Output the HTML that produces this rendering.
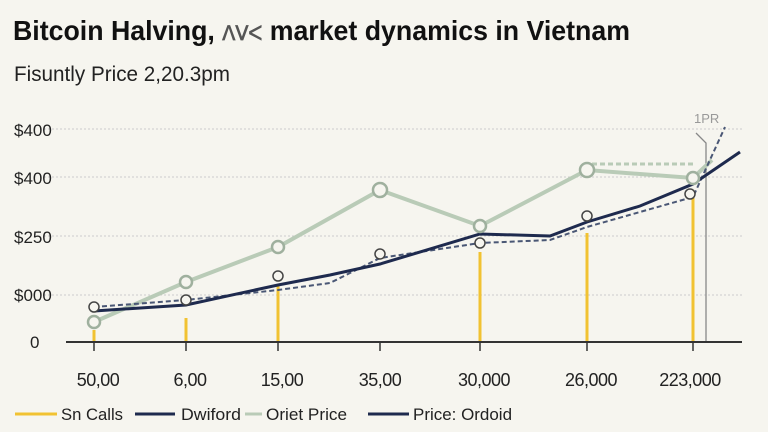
<!DOCTYPE html>
<html><head><meta charset="utf-8"><style>
html,body{margin:0;padding:0;background:#f6f5ef;}
svg{display:block;font-family:"Liberation Sans",sans-serif;}
</style></head><body>
<svg width="768" height="432" viewBox="0 0 768 432">
<rect width="768" height="432" fill="#f6f5ef"/>
<text x="13" y="40" font-size="28" font-weight="bold" fill="#111" textLength="617" lengthAdjust="spacingAndGlyphs">Bitcoin Halving, <tspan fill="#555" font-size="20">ᐱᐯᐸ</tspan> market dynamics in Vietnam</text>
<text x="14" y="81" font-size="21" fill="#222" textLength="216" lengthAdjust="spacingAndGlyphs">Fisuntly Price 2,20.3pm</text>
<g stroke="#ccc" stroke-dasharray="2,2" stroke-width="1">
<line x1="44" y1="129" x2="742" y2="129"/>
<line x1="44" y1="177" x2="742" y2="177"/>
<line x1="44" y1="236" x2="742" y2="236"/>
<line x1="44" y1="295" x2="742" y2="295"/>
</g>
<g font-size="17" fill="#222">
<text x="14" y="136">$400</text>
<text x="14" y="184">$400</text>
<text x="14" y="243">$250</text>
<text x="14" y="301">$000</text>
<text x="30" y="348">0</text>
</g>
<text x="694" y="123" font-size="13" fill="#999">1PR</text>
<polyline points="696,133 706,143 706,342" fill="none" stroke="#888" stroke-width="1.3"/>
<g stroke="#f1c232" stroke-width="3">
<line x1="94" y1="342" x2="94" y2="330"/>
<line x1="186" y1="342" x2="186" y2="318"/>
<line x1="278" y1="342" x2="278" y2="285"/>
<line x1="480" y1="342" x2="480" y2="252"/>
<line x1="587" y1="342" x2="587" y2="233"/>
<line x1="693" y1="342" x2="693" y2="198"/>
</g>
<polyline points="94,322 186,282 278,247 380,190 480,226 587,170 693,178 712,160" fill="none" stroke="#b9cbb7" stroke-width="4"/>
<line x1="592" y1="164" x2="693" y2="164" stroke="#b9cbb7" stroke-width="3" stroke-dasharray="5,3"/>
<polyline points="94,307 186,300 278,290 330,283 380,258 480,243 550,240 587,227 693,197 725,127" fill="none" stroke="#4a5775" stroke-width="2" stroke-dasharray="5,3"/>
<polyline points="94,311 186,305 278,285 330,275 380,264 480,234 550,236 587,222 640,206 693,184 740,152" fill="none" stroke="#1e2a4e" stroke-width="3"/>
<g fill="#f6f5ef" stroke="#9fb09e" stroke-width="2.5">
<circle cx="94" cy="322" r="6"/><circle cx="186" cy="282" r="6"/><circle cx="278" cy="247" r="6"/>
<circle cx="380" cy="190" r="7"/><circle cx="480" cy="226" r="6"/><circle cx="587" cy="170" r="7"/><circle cx="693" cy="178" r="6"/>
</g>
<g fill="#f6f5ef" stroke="#444" stroke-width="1.5">
<circle cx="94" cy="307" r="5"/><circle cx="186" cy="300" r="5"/><circle cx="278" cy="276" r="5"/>
<circle cx="380" cy="254" r="5"/><circle cx="480" cy="243" r="5"/><circle cx="587" cy="216" r="5"/><circle cx="690" cy="194" r="5"/>
</g>
<line x1="66" y1="342" x2="742" y2="342" stroke="#333" stroke-width="2"/>
<g stroke="#333" stroke-width="1.5">
<line x1="94" y1="342" x2="94" y2="351"/><line x1="186" y1="342" x2="186" y2="351"/>
<line x1="278" y1="342" x2="278" y2="351"/><line x1="380" y1="342" x2="380" y2="351"/>
<line x1="480" y1="342" x2="480" y2="351"/><line x1="587" y1="342" x2="587" y2="351"/>
<line x1="693" y1="342" x2="693" y2="351"/>
</g>
<g font-size="18" fill="#222" text-anchor="middle" letter-spacing="-0.5">
<text x="98" y="386">50,00</text><text x="190" y="386">6,00</text><text x="282" y="386">15,00</text>
<text x="380" y="386">35,00</text><text x="484" y="386">30,000</text><text x="591" y="386">26,000</text><text x="690" y="386">223,000</text>
</g>
<g font-size="17" fill="#222">
<line x1="15" y1="414" x2="57" y2="414" stroke="#f1c232" stroke-width="3"/>
<text x="61" y="420" textLength="62" lengthAdjust="spacingAndGlyphs">Sn Calls</text>
<line x1="135" y1="414" x2="175" y2="414" stroke="#1e2a4e" stroke-width="3"/>
<text x="181" y="420" textLength="60" lengthAdjust="spacingAndGlyphs">Dwiford</text>
<line x1="245" y1="414" x2="262" y2="414" stroke="#b9cbb7" stroke-width="3"/>
<text x="266" y="420" textLength="81" lengthAdjust="spacingAndGlyphs">Oriet Price</text>
<line x1="368" y1="414" x2="409" y2="414" stroke="#1e2a4e" stroke-width="3"/>
<text x="413" y="420" textLength="99" lengthAdjust="spacingAndGlyphs">Price: Ordoid</text>
</g>
</svg>
</body></html>
